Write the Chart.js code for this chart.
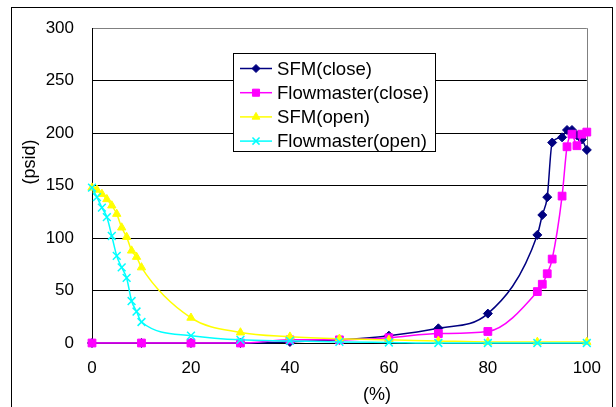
<!DOCTYPE html>
<html><head><meta charset="utf-8">
<script src="https://cdn.jsdelivr.net/npm/chart.js@4/dist/chart.umd.min.js"></script>
<style>html,body{margin:0;padding:0;background:#fff;} canvas{display:block;}</style>
</head><body>
<canvas id="c" width="616" height="407"></canvas>
<script>
const seriesNames = ['SFM(close)', 'Flowmaster(close)', 'SFM(open)', 'Flowmaster(open)'];
const sfmCloseX = [0, 10, 20, 30, 40, 50, 60, 70, 80, 90, 91, 92, 93, 95, 96, 97, 98, 99, 100];
const sfmCloseY = [0, 0, 0, 0, 1, 3, 7, 14, 28, 103, 122, 139, 191, 196, 203, 203, 198, 194, 184];
const fmCloseX = [0, 10, 20, 30, 40, 50, 60, 70, 80, 90, 91, 92, 93, 95, 96, 97, 98, 99, 100];
const fmCloseY = [0, 0, 0, 0, 3, 3, 5, 9, 11, 49, 56, 66, 80, 140, 187, 199, 188, 199, 201];
const sfmOpenX = [0, 1, 2, 3, 4, 5, 6, 7, 8, 9, 10, 20, 30, 40, 50, 60, 70, 80, 90, 100];
const sfmOpenY = [148, 146, 142, 137, 131, 123, 110, 101, 88, 82, 72, 24, 10, 6, 4, 3, 2, 1, 1, 1];
const fmOpenX = [0, 1, 2, 3, 4, 5, 6, 7, 8, 9, 10, 20, 30, 40, 50, 60, 70, 80, 90, 100];
const fmOpenY = [148, 139, 129, 120, 102, 83, 72, 62, 40, 30, 20, 7, 3, 2, 1, 0.5, 0, 0, 0, 0];
const xTicks = [0, 20, 40, 60, 80, 100];
const yTicks = [0, 50, 100, 150, 200, 250, 300];
const xTitle = '(%)';
const yTitle = '(psid)';

const FONT = "'Liberation Sans', Arial, sans-serif";
const pts = (xs, ys) => xs.map((x, i) => ({x: x, y: ys[i]}));

const styles = [
  {color: '#000080', pointStyle: 'rectRot', r: 4.5, lr: 4},
  {color: '#FF00FF', pointStyle: 'rect', r: 5.5, lr: 5},
  {color: '#FFFF00', pointStyle: 'triangle', r: 4.8, lr: 4.5},
  {color: '#00FFFF', pointStyle: 'crossRot', r: 5.5, lr: 5}
];
const seriesData = [pts(sfmCloseX, sfmCloseY), pts(fmCloseX, fmCloseY), pts(sfmOpenX, sfmOpenY), pts(fmOpenX, fmOpenY)];

const datasets = seriesNames.map((name, i) => ({
  label: name,
  data: seriesData[i],
  borderColor: styles[i].color,
  backgroundColor: styles[i].color,
  pointBackgroundColor: styles[i].color,
  pointBorderColor: styles[i].color,
  pointStyle: styles[i].pointStyle,
  pointRadius: styles[i].r,
  pointBorderWidth: i === 3 ? 1.5 : 1,
  borderWidth: 1.5,
  cubicInterpolationMode: 'monotone',
  clip: false,
  order: 4 - i
}));

const decor = {
  id: 'decor',
  beforeDatasetsDraw(chart) {
    const ctx = chart.ctx, a = chart.chartArea;
    ctx.save();
    ctx.strokeStyle = '#808080';
    ctx.lineWidth = 1;
    ctx.beginPath();
    ctx.moveTo(Math.round(a.right) + 0.5, a.top);
    ctx.lineTo(Math.round(a.right) + 0.5, a.bottom);
    ctx.stroke();
    ctx.restore();
  },
  afterDraw(chart) {
    const ctx = chart.ctx;
    ctx.save();
    // outer border
    ctx.strokeStyle = '#000';
    ctx.lineWidth = 1;
    ctx.strokeRect(11.5, 7.5, 601, 420);
    // axis titles
    ctx.fillStyle = '#000';
    ctx.font = '18px ' + FONT;
    ctx.textAlign = 'center';
    ctx.textBaseline = 'middle';
    ctx.fillText(xTitle, 377, 395);
    ctx.save();
    ctx.translate(30, 162);
    ctx.rotate(-Math.PI / 2);
    ctx.fillText(yTitle, 0, 0);
    ctx.restore();
    // legend
    const lx = 233.5, ly = 53.5, lw = 202, lh = 98;
    ctx.fillStyle = '#fff';
    ctx.fillRect(lx, ly, lw, lh);
    ctx.strokeStyle = '#000';
    ctx.strokeRect(lx, ly, lw, lh);
    chart.data.datasets.forEach((ds, i) => {
      const y = 68.5 + i * 24.2;
      ctx.strokeStyle = ds.borderColor;
      ctx.lineWidth = 1.5;
      ctx.beginPath();
      ctx.moveTo(240, y);
      ctx.lineTo(272, y);
      ctx.stroke();
      ctx.fillStyle = ds.borderColor;
      ctx.lineWidth = i === 3 ? 1.5 : 1;
      Chart.helpers.drawPoint(ctx, {pointStyle: ds.pointStyle, radius: styles[i].lr, rotation: 0, borderWidth: ctx.lineWidth}, 256, y);
      ctx.fillStyle = '#000';
      ctx.font = '18.6px ' + FONT;
      ctx.textAlign = 'left';
      ctx.textBaseline = 'middle';
      ctx.fillText(ds.label, 277, y + 1);
    });
    ctx.restore();
  }
};

new Chart(document.getElementById('c'), {
  type: 'line',
  data: {datasets: datasets},
  plugins: [decor],
  options: {
    responsive: false,
    animation: false,
    devicePixelRatio: 1,
    events: [],
    layout: {padding: {top: 27, right: 28, left: 0, bottom: 0}},
    plugins: {legend: {display: false}, tooltip: {enabled: false}},
    scales: {
      x: {
        type: 'linear', min: 0, max: 100,
        afterBuildTicks: s => { s.ticks = xTicks.map(v => ({value: v})); },
        afterFit: s => { s.height = 64; },
        grid: {display: false, drawTicks: false},
        border: {display: true, color: '#000', width: 1},
        ticks: {color: '#000', font: {family: FONT, size: 17}, padding: 15, maxRotation: 0, autoSkip: false}
      },
      y: {
        type: 'linear', min: 0, max: 300,
        afterBuildTicks: s => { s.ticks = yTicks.map(v => ({value: v})); },
        afterFit: s => { s.width = 92; },
        grid: {drawTicks: false, lineWidth: 1, color: c => (c.tick && c.tick.value === 300) ? '#808080' : '#000'},
        border: {display: true, color: '#000', width: 1},
        ticks: {color: '#000', font: {family: FONT, size: 17}, padding: 18, autoSkip: false}
      }
    }
  }
});
</script>
</body></html>
